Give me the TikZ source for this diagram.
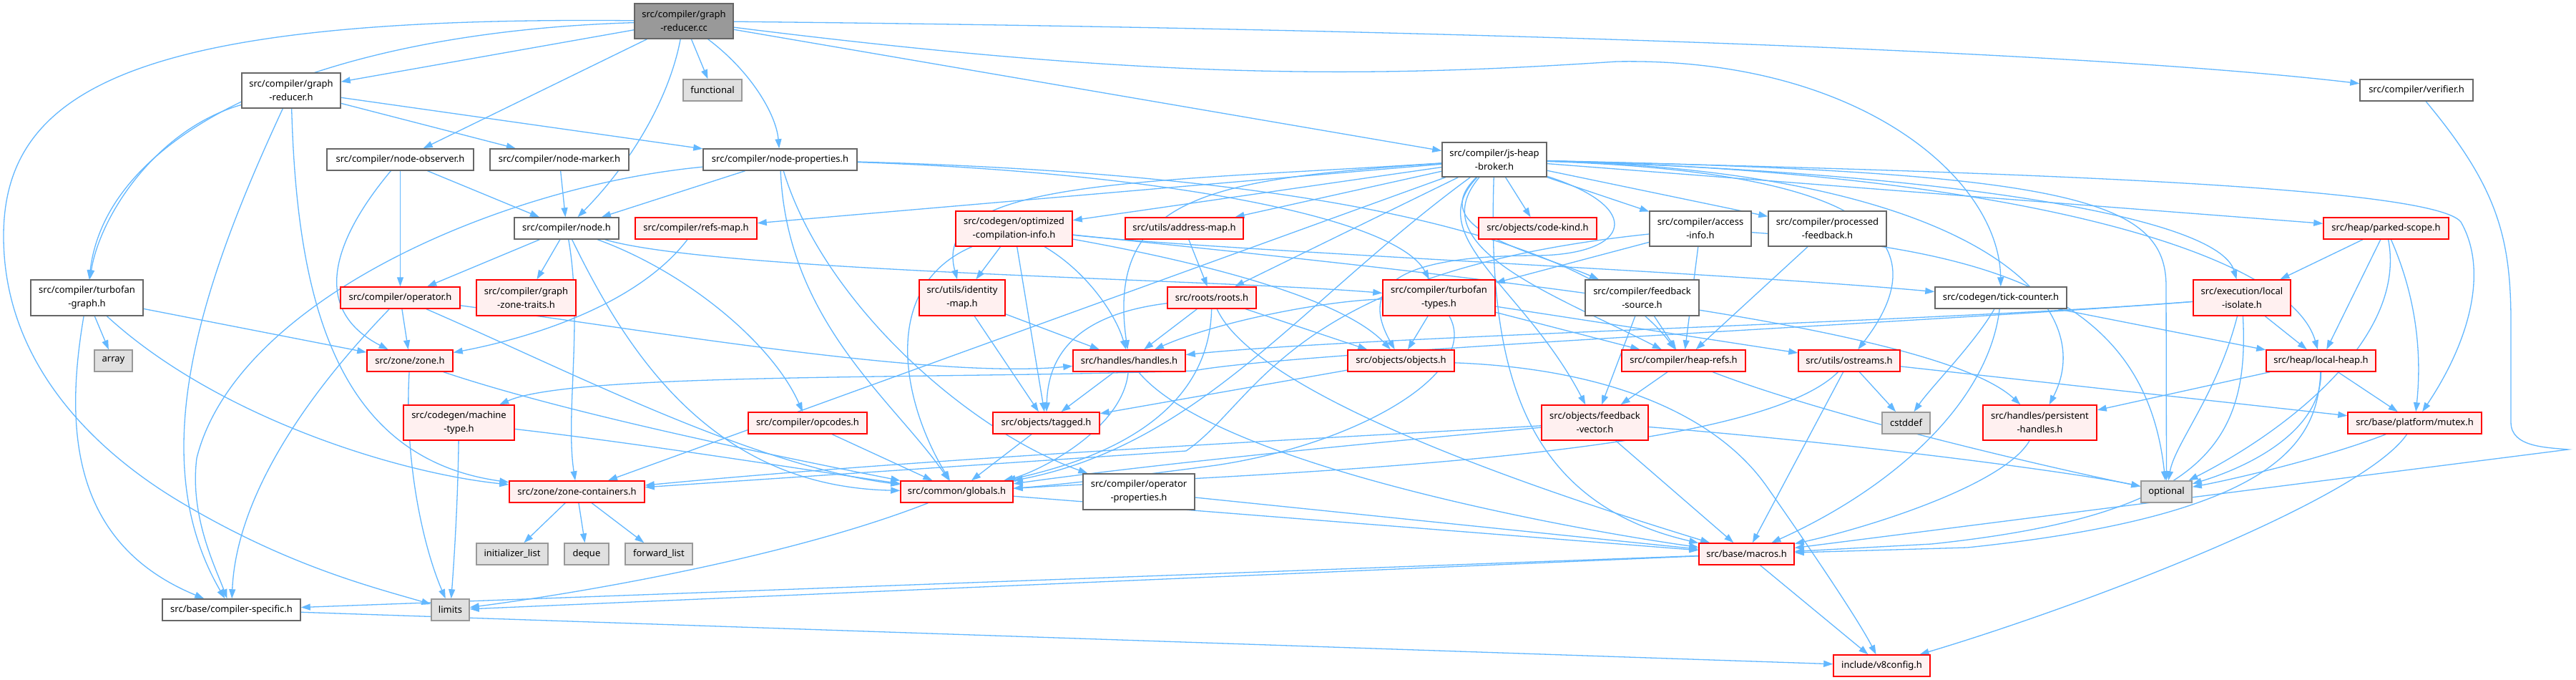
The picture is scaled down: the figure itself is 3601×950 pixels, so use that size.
\documentclass[tikz,border=0pt]{standalone}
\usepackage{fontspec}
\setmainfont{Noto Sans}
\usetikzlibrary{arrows.meta,backgrounds}
\definecolor{eblue}{HTML}{63B8FF}
\definecolor{rootfill}{HTML}{999999}
\definecolor{greyforty}{HTML}{666666}
\definecolor{sysfill}{HTML}{E0E0E0}
\definecolor{sysline}{HTML}{999999}
\definecolor{truncfill}{HTML}{FFF0F0}
\begin{document}
\begin{tikzpicture}[x=1pt,y=-1pt,
 box/.style={line width=1.5pt, inner sep=0pt, align=center, font=\fontsize{13}{19}\selectfont},
 root/.style={box, fill=rootfill, draw=greyforty},
 nrm/.style={box, fill=white, draw=greyforty},
 trunc/.style={box, fill=truncfill, draw=red},
 sys/.style={box, fill=sysfill, draw=sysline},
 e/.style={draw=eblue, line width=1.3pt, -{Triangle[length=13pt,width=9pt]}},
 ]
\useasboundingbox (0,0) rectangle (3601,950);
% ---------------- nodes
\node[root, minimum width=138pt, minimum height=49pt] (grcc) at (956,29.5) {src/compiler/graph\\-reducer.cc};
\node[nrm, minimum width=138pt, minimum height=49pt] (grh) at (407,126.5) {src/compiler/graph\\-reducer.h};
\node[sys, minimum width=82pt, minimum height=30pt] (functional) at (996,126) {functional};
\node[nrm, minimum width=158pt, minimum height=30pt] (verifier) at (3378,126) {src/compiler/verifier.h};
\node[nrm, minimum width=205pt, minimum height=30pt] (nobs) at (559.5,223) {src/compiler/node-observer.h};
\node[nrm, minimum width=194pt, minimum height=30pt] (nmark) at (782,223) {src/compiler/node-marker.h};
\node[nrm, minimum width=215pt, minimum height=30pt] (nprop) at (1090.5,223) {src/compiler/node-properties.h};
\node[nrm, minimum width=146pt, minimum height=48pt] (jhb) at (2089,223) {src/compiler/js-heap\\-broker.h};
\node[nrm, minimum width=146pt, minimum height=30pt] (node) at (792,319) {src/compiler/node.h};
\node[trunc, minimum width=170pt, minimum height=30pt] (refsmap) at (973,319) {src/compiler/refs-map.h};
\node[trunc, minimum width=163pt, minimum height=49pt] (oci) at (1417.5,319.5) {src/codegen/optimized\\-compilation-info.h};
\node[trunc, minimum width=165pt, minimum height=30pt] (addrmap) at (1655.5,319) {src/utils/address-map.h};
\node[trunc, minimum width=165pt, minimum height=30pt] (codekind) at (2149.5,319) {src/objects/code-kind.h};
\node[nrm, minimum width=142pt, minimum height=49pt] (access) at (2377,319.5) {src/compiler/access\\-info.h};
\node[nrm, minimum width=165pt, minimum height=49pt] (procfb) at (2554.5,319.5) {src/compiler/processed\\-feedback.h};
\node[trunc, minimum width=175pt, minimum height=30pt] (parked) at (3335.5,319) {src/heap/parked-scope.h};
\node[nrm, minimum width=157pt, minimum height=50pt] (tfgraph) at (121.5,416) {src/compiler/turbofan\\-graph.h};
\node[trunc, minimum width=167pt, minimum height=30pt] (operator) at (559.5,416) {src/compiler/operator.h};
\node[trunc, minimum width=139pt, minimum height=50pt] (gzt) at (735.5,416) {src/compiler/graph\\-zone-traits.h};
\node[trunc, minimum width=120pt, minimum height=50pt] (idmap) at (1345,416) {src/utils/identity\\-map.h};
\node[trunc, minimum width=124pt, minimum height=30pt] (roots) at (1694,416) {src/roots/roots.h};
\node[trunc, minimum width=157pt, minimum height=50pt] (tftypes) at (2011.5,416) {src/compiler/turbofan\\-types.h};
\node[nrm, minimum width=159pt, minimum height=50pt] (fbsrc) at (2295.5,416) {src/compiler/feedback\\-source.h};
\node[nrm, minimum width=184pt, minimum height=30pt] (tick) at (2797,416) {src/codegen/tick-counter.h};
\node[trunc, minimum width=136pt, minimum height=50pt] (lisolate) at (3134,416) {src/execution/local\\-isolate.h};
\node[sys, minimum width=53pt, minimum height=30pt] (array) at (158.5,504) {array};
\node[trunc, minimum width=120pt, minimum height=30pt] (zone) at (573,504) {src/zone/zone.h};
\node[trunc, minimum width=157pt, minimum height=30pt] (handles) at (1578.5,504) {src/handles/handles.h};
\node[trunc, minimum width=149pt, minimum height=30pt] (objects) at (1958.5,504) {src/objects/objects.h};
\node[trunc, minimum width=173pt, minimum height=30pt] (heaprefs) at (2353.5,504) {src/compiler/heap-refs.h};
\node[trunc, minimum width=142pt, minimum height=30pt] (ostreams) at (2585,504) {src/utils/ostreams.h};
\node[trunc, minimum width=153pt, minimum height=30pt] (localheap) at (3244.5,504) {src/heap/local-heap.h};
\node[trunc, minimum width=155pt, minimum height=49pt] (machtype) at (641.5,590.5) {src/codegen/machine\\-type.h};
\node[trunc, minimum width=149pt, minimum height=49pt] (fbvec) at (2229.5,590.5) {src/objects/feedback\\-vector.h};
\node[trunc, minimum width=159pt, minimum height=49pt] (persist) at (2851.5,590.5) {src/handles/persistent\\-handles.h};
\node[trunc, minimum width=166pt, minimum height=30pt] (opcodes) at (1129,591) {src/compiler/opcodes.h};
\node[trunc, minimum width=149pt, minimum height=30pt] (tagged) at (1462.5,591) {src/objects/tagged.h};
\node[sys, minimum width=67pt, minimum height=30pt] (cstddef) at (2664.5,591) {cstddef};
\node[trunc, minimum width=187pt, minimum height=30pt] (mutex) at (3375.5,591) {src/base/platform/mutex.h};
\node[trunc, minimum width=189pt, minimum height=30pt] (zonecont) at (806.5,687) {src/zone/zone-containers.h};
\node[trunc, minimum width=157pt, minimum height=30pt] (globals) at (1337.5,687) {src/common/globals.h};
\node[nrm, minimum width=156pt, minimum height=50pt] (opprops) at (1592,687) {src/compiler/operator\\-properties.h};
\node[sys, minimum width=71pt, minimum height=30pt] (optional) at (3028.5,687) {optional};
\node[sys, minimum width=100pt, minimum height=30pt] (initlist) at (716,774) {initializer\_list};
\node[sys, minimum width=62pt, minimum height=30pt] (deque) at (820,774) {deque};
\node[sys, minimum width=94pt, minimum height=30pt] (fwdlist) at (921,774) {forward\_list};
\node[trunc, minimum width=133pt, minimum height=30pt] (macros) at (2441.5,774) {src/base/macros.h};
\node[nrm, minimum width=193pt, minimum height=30pt] (compspec) at (323.5,852) {src/base/compiler-specific.h};
\node[sys, minimum width=53pt, minimum height=30pt] (limits) at (629.5,852) {limits};
\node[trunc, minimum width=135pt, minimum height=30pt] (v8config) at (2630.5,930) {include/v8config.h};
% ---------------- edges
\begin{pgfonlayer}{background}
\fill[white] (0,0) rectangle (3601,950);
% graph-reducer.cc
\draw[e] (grcc) -- (grh);
\draw[e] (grcc) -- (functional);
\draw[e] (grcc) .. controls (1050,100) and (1085,160) .. (nprop);
\draw[e] (grcc) .. controls (935,140) and (880,230) .. (node);
\draw[e] (grcc) -- (nobs);
\draw[e] (grcc) .. controls (450,45) and (150,180) .. (tfgraph);
\draw[e] (grcc) .. controls (200,22) and (5,120) .. (5,330) .. controls (5,520) and (150,640) .. (250,700) .. controls (400,790) and (520,820) .. (limits);
\draw[e] (grcc) -- (jhb);
\draw[e] (grcc) .. controls (2000,40) and (2900,70) .. (verifier);
\draw[e] (grcc) .. controls (1600,110) and (1900,110) .. (2260,86) .. controls (2600,80) and (2795,250) .. (tick);
% graph-reducer.h
\draw[e] (grh) -- (nmark);
\draw[e] (grh) -- (nprop);
\draw[e] (grh) .. controls (220,180) and (140,300) .. (tfgraph);
\draw[e] (grh) .. controls (280,400) and (200,640) .. (compspec);
\draw[e] (grh) .. controls (415,420) and (470,640) .. (zonecont);
% node-observer / marker
\draw[e] (nobs) -- (node);
\draw[e] (nobs) -- (operator);
\draw[e] (nobs) .. controls (470,330) and (430,430) .. (zone);
\draw[e] (nmark) -- (node);
% node-properties
\draw[e] (nprop) -- (node);
\draw[e] (nprop) .. controls (700,260) and (330,420) .. (275,640) .. controls (265,720) and (300,790) .. (compspec);
\draw[e] (nprop) .. controls (1100,450) and (1250,560) .. (globals);
\draw[e] (nprop) .. controls (1150,420) and (1350,600) .. (opprops);
\draw[e] (nprop) .. controls (1700,240) and (2200,300) .. (heaprefs);
\draw[e] (nprop) .. controls (1600,240) and (1950,300) .. (tftypes);
% node
\draw[e] (node) -- (operator);
\draw[e] (node) -- (gzt);
\draw[e] (node) .. controls (960,380) and (1080,480) .. (opcodes);
\draw[e] (node) .. controls (1000,380) and (1700,390) .. (tftypes);
\draw[e] (node) .. controls (815,450) and (790,580) .. (zonecont);
\draw[e] (node) .. controls (880,500) and (1000,680) .. (globals);
% js-heap-broker
\draw[e] (jhb) -- (refsmap);
\draw[e] (jhb) -- (oci);
\draw[e] (jhb) -- (addrmap);
\draw[e] (jhb) -- (codekind);
\draw[e] (jhb) -- (access);
\draw[e] (jhb) -- (procfb);
\draw[e] (jhb) .. controls (1600,255) and (1300,250) .. (idmap);
\draw[e] (jhb) .. controls (1700,250) and (1545,270) .. (handles);
\draw[e] (jhb) -- (roots);
\draw[e] (jhb) .. controls (2300,290) and (2280,355) .. (2150,357) .. controls (1950,357) and (1900,400) .. (objects);
\draw[e] (jhb) .. controls (1985,330) and (2130,400) .. (fbvec);
\draw[e] (jhb) .. controls (1990,320) and (2140,350) .. (fbsrc);
\draw[e] (jhb) .. controls (1985,345) and (2170,410) .. (heaprefs);
\draw[e] (jhb) .. controls (2600,240) and (2720,330) .. (ostreams);
\draw[e] (jhb) .. controls (2700,240) and (3100,300) .. (lisolate);
\draw[e] (jhb) .. controls (2800,240) and (3200,350) .. (localheap);
\draw[e] (jhb) -- (parked);
\draw[e] (jhb) .. controls (2750,240) and (2940,420) .. (persist);
\draw[e] (jhb) .. controls (2800,240) and (3400,260) .. (3440,310) .. controls (3480,380) and (3450,480) .. (mutex);
\draw[e] (jhb) .. controls (2900,240) and (3028,280) .. (3028,400) -- (optional);
\draw[e] (jhb) .. controls (2080,500) and (2120,700) .. (macros);
\draw[e] (jhb) .. controls (1820,420) and (1680,620) .. (globals);
\draw[e] (jhb) -- (zonecont);
% optimized-compilation-info
\draw[e] (oci) -- (idmap);
\draw[e] (oci) -- (tagged);
\draw[e] (oci) .. controls (1520,380) and (1560,440) .. (handles);
\draw[e] (oci) .. controls (1230,400) and (1260,560) .. (globals);
\draw[e] (oci) .. controls (1700,350) and (2400,380) .. (tick);
\draw[e] (oci) .. controls (1700,370) and (1880,420) .. (objects);
\draw[e] (oci) .. controls (2000,380) and (2700,450) .. (persist);
% identity-map, address-map
\draw[e] (idmap) -- (handles);
\draw[e] (idmap) -- (tagged);
\draw[e] (addrmap) -- (roots);
% roots
\draw[e] (roots) .. controls (1500,440) and (1465,500) .. (tagged);
\draw[e] (roots) -- (handles);
\draw[e] (roots) .. controls (1690,600) and (1500,650) .. (globals);
\draw[e] (roots) -- (objects);
\draw[e] (roots) .. controls (1760,560) and (2200,700) .. (macros);
% handles, tagged, opcodes, objects
\draw[e] (handles) -- (tagged);
\draw[e] (handles) .. controls (1570,600) and (1450,660) .. (globals);
\draw[e] (handles) .. controls (1700,650) and (2200,740) .. (macros);
\draw[e] (tagged) -- (globals);
\draw[e] (opcodes) -- (globals);
\draw[e] (objects) -- (tagged);
\draw[e] (objects) .. controls (2250,515) and (2400,580) .. (2470,680) .. controls (2540,780) and (2600,870) .. (v8config);
% turbofan-types
\draw[e] (tftypes) -- (objects);
\draw[e] (tftypes) .. controls (1850,420) and (1700,450) .. (handles);
\draw[e] (tftypes) .. controls (2070,520) and (1900,620) .. (1700,650) .. controls (1550,670) and (1450,680) .. (globals);
\draw[e] (tftypes) -- (ostreams);
\draw[e] (tftypes) -- (heaprefs);
% access-info, processed-feedback, feedback-source, heap-refs
\draw[e] (access) -- (heaprefs);
\draw[e] (access) -- (tftypes);
\draw[e] (access) .. controls (1800,380) and (1760,560) .. (1658,630) -- (zonecont);
\draw[e] (access) .. controls (2800,350) and (3000,420) .. (optional);
\draw[e] (procfb) -- (heaprefs);
\draw[e] (fbsrc) -- (fbvec);
\draw[e] (fbsrc) -- (heaprefs);
\draw[e] (heaprefs) -- (fbvec);
\draw[e] (heaprefs) .. controls (2550,580) and (2850,650) .. (optional);
% feedback-vector
\draw[e] (fbvec) .. controls (1800,615) and (1300,640) .. (zonecont);
\draw[e] (fbvec) .. controls (1900,620) and (1600,650) .. (globals);
\draw[e] (fbvec) -- (macros);
\draw[e] (fbvec) .. controls (2600,620) and (2900,660) .. (optional);
% ostreams
\draw[e] (ostreams) -- (cstddef);
\draw[e] (ostreams) -- (macros);
\draw[e] (ostreams) -- (mutex);
\draw[e] (ostreams) .. controls (2450,640) and (1800,660) .. (globals);
% tick-counter
\draw[e] (tick) .. controls (2760,480) and (2700,540) .. (cstddef);
\draw[e] (tick) .. controls (2780,560) and (2650,680) .. (macros);
\draw[e] (tick) -- (localheap);
% local-isolate
\draw[e] (lisolate) -- (localheap);
\draw[e] (lisolate) .. controls (2700,450) and (1900,470) .. (handles);
\draw[e] (lisolate) .. controls (2700,450) and (1800,492) .. (1669,518) .. controls (1300,530) and (800,520) .. (machtype);
\draw[e] (lisolate) .. controls (3145,620) and (3080,720) .. (2700,760) -- (macros);
\draw[e] (lisolate) .. controls (3100,550) and (3040,620) .. (optional);
% parked-scope
\draw[e] (parked) -- (lisolate);
\draw[e] (parked) -- (localheap);
\draw[e] (parked) .. controls (3380,420) and (3385,500) .. (mutex);
\draw[e] (parked) .. controls (3365,470) and (3200,600) .. (optional);
% local-heap
\draw[e] (localheap) -- (persist);
\draw[e] (localheap) -- (mutex);
\draw[e] (localheap) .. controls (3240,620) and (3180,720) .. (2750,765) -- (macros);
\draw[e] (localheap) .. controls (3245,600) and (3150,650) .. (optional);
% mutex, persistent
\draw[e] (mutex) .. controls (3250,640) and (3120,670) .. (optional);
\draw[e] (mutex) .. controls (3300,700) and (2900,850) .. (v8config);
\draw[e] (persist) .. controls (2800,680) and (2600,740) .. (macros);
% zone containers
\draw[e] (zonecont) -- (initlist);
\draw[e] (zonecont) -- (deque);
\draw[e] (zonecont) -- (fwdlist);
% globals, opprops, verifier
\draw[e] (globals) .. controls (1100,780) and (800,830) .. (limits);
\draw[e] (globals) -- (macros);
\draw[e] (opprops) -- (macros);
\draw[e] (verifier) .. controls (3490,260) and (3510,330) .. (3510,450) -- (3510,590) .. controls (3510,625) and (3560,625) .. (3590,628) -- (macros);
% machine-type, zone, operator
\draw[e] (machtype) .. controls (640,700) and (635,780) .. (limits);
\draw[e] (machtype) .. controls (900,620) and (1150,660) .. (globals);
\draw[e] (zone) .. controls (565,640) and (590,760) .. (limits);
\draw[e] (zone) .. controls (800,580) and (1100,640) .. (globals);
\draw[e] (refsmap) .. controls (880,440) and (700,480) .. (zone);
\draw[e] (tfgraph) -- (array);
\draw[e] (tfgraph) -- (zone);
\draw[e] (tfgraph) .. controls (90,600) and (100,760) .. (compspec);
\draw[e] (tfgraph) .. controls (300,580) and (550,660) .. (zonecont);
\draw[e] (operator) .. controls (420,560) and (330,700) .. (compspec);
\draw[e] (operator) -- (zone);
\draw[e] (operator) .. controls (800,520) and (1050,650) .. (globals);
\draw[e] (operator) .. controls (900,460) and (1300,530) .. (handles);
% bottom
\draw[e] (compspec) -- (v8config);
\draw[e] (macros) -- (compspec);
\draw[e] (macros) -- (limits);
\draw[e] (macros) -- (v8config);
\end{pgfonlayer}
\end{tikzpicture}
\end{document}
